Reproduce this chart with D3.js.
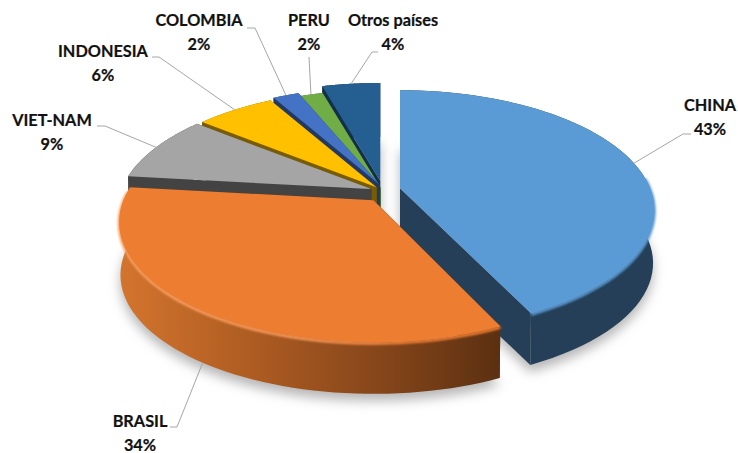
<!DOCTYPE html>
<html>
<head>
<meta charset="utf-8">
<script src="https://cdn.jsdelivr.net/npm/d3@7"></script>
<style>
  html, body { margin: 0; padding: 0; background: #fff; }
  text { font-family: Lato, "Open Sans", sans-serif; font-weight: 700; font-size: 16.3px; fill: #111; stroke: #111; stroke-width: 0.2px; }
</style>
</head>
<body>
<script>
var paises = ["CHINA", "BRASIL", "VIET-NAM", "INDONESIA", "COLOMBIA", "PERU", "Otros países"]
var porcentajes = [42.8, 34, 9, 6, 2, 1.8, 4.4]
var colores = ["#5b9bd5", "#ed7d31", "#a5a5a5", "#ffc000", "#4472c4", "#70ad47", "#255e91"]
var coloresLado = ["#243f57", "#5e3211", "#434343", "#7a5c00", "#223962", "#3f6428", "#12304a"]

// how far each slice is pulled out of the pie, sideways and in depth
var explodeU = [0.07, 0.064, 0.05, 0.04, 0.03, 0.03, 0.08]
var explodeV = [0.07, 0.106, 0.02, 0.03, 0.05, 0.02, 0.08]
// the pulled out Brasil slice looks a bit narrower at its front corner
var recorte = [0, 0.016, 0, 0, 0, 0, 0]
// painter's order, back slices first
var orden = [6, 5, 4, 3, 2, 0, 1]
// label centre, and the leader's first two points
var etiquetas = [
  { x: 710, y: 111, elbow: [683, 134], start: [691, 134] },
  { x: 140, y: 427, elbow: [177, 427], start: [170, 427] },
  { x: 52, y: 126, elbow: [105, 126], start: [97, 126] },
  { x: 103, y: 57, elbow: [159, 57], start: [152, 57] },
  { x: 199, y: 26, elbow: [255, 28], start: [247, 28] },
  { x: 309, y: 26, elbow: [309, 57], start: [309, 57] },
  { x: 393, y: 26, elbow: [372, 52], start: [378, 52] }
]

var width = 738, height = 453
var cx = 383, cy = 190
var R = 250, b = 116, a = 0.184, depth = 53

var svg = d3.select("body").append("svg")
  .attr("width", width)
  .attr("height", height)
  .style("display", "block")

var defs = svg.append("defs")
defs.append("filter").attr("id", "sombra").attr("x", "-10%").attr("y", "-10%").attr("width", "120%").attr("height", "130%")
  .append("feGaussianBlur").attr("stdDeviation", 6)
defs.append("filter").attr("id", "suave").attr("x", "-10%").attr("y", "-10%").attr("width", "120%").attr("height", "120%")
  .append("feGaussianBlur").attr("stdDeviation", 1.1)

var gradOrange = defs.append("linearGradient").attr("id", "ladoBrasil")
  .attr("gradientUnits", "userSpaceOnUse").attr("x1", 118).attr("x2", 500).attr("y1", 0).attr("y2", 0)
gradOrange.selectAll("stop")
  .data([[0, "#d4752e"], [0.35, "#ae5c22"], [0.7, "#84451a"], [1, "#5b3011"]])
  .enter().append("stop")
  .attr("offset", d => d[0])
  .attr("stop-color", d => d[1])

var gradBrillo = defs.append("linearGradient").attr("id", "brillo")
  .attr("gradientUnits", "userSpaceOnUse").attr("x1", 118).attr("x2", 420).attr("y1", 0).attr("y2", 0)
gradBrillo.selectAll("stop")
  .data([[0, "#f9a060"], [0.6, "#f7985a"], [1, "#ed7d31"]])
  .enter().append("stop")
  .attr("offset", d => d[0])
  .attr("stop-color", d => d[1])

var pie = d3.pie().sort(null).value(d => d)
var arcos = pie(porcentajes)
arcos.forEach(function (d, i) { d.startAngle += recorte[i] })

// perspective view of the flat disc: angle measured clockwise from the back
function plano(u, v) {
  var k = 1 / (1 - a * v)
  return [u * R * k, v * b * k]
}

function disco(ang) {
  return plano(Math.sin(ang), -Math.cos(ang))
}

function centro(d, i) {
  var mid = (d.startAngle + d.endAngle) / 2
  var p = plano(Math.sin(mid) * explodeU[i], -Math.cos(mid) * explodeV[i])
  return [cx + p[0], cy + p[1]]
}

function borde(d, i, ang) {
  var c = centro(d, i), p = disco(ang)
  return [c[0] + p[0], c[1] + p[1]]
}

// the floor of the pie sits a little inside the top, and lower
function abajo(pt, c) {
  return [c[0] + (pt[0] - c[0]) * 0.995, pt[1] + depth - (pt[1] - c[1]) * 0.01]
}

function angulos(d) {
  return d3.range(0, 61).map(n => d.startAngle + (d.endAngle - d.startAngle) * n / 60)
}

var linea = d3.line()

function tapa(d, i) {
  var c = centro(d, i)
  return linea([c].concat(angulos(d).map(t => borde(d, i, t)))) + "Z"
}

function piso(d, i) {
  var c = centro(d, i)
  return linea([abajo(c, c)].concat(angulos(d).map(t => abajo(borde(d, i, t), c)))) + "Z"
}

function lado(d, i) {
  var c = centro(d, i)
  var sup = angulos(d).map(t => borde(d, i, t))
  var inf = sup.map(p => abajo(p, c)).reverse()
  return linea(sup.concat(inf)) + "Z"
}

function corte(d, i, ang) {
  var c = centro(d, i), p = borde(d, i, ang)
  return linea([c, p, abajo(p, c), abajo(c, c)]) + "Z"
}

// soft shadow under the whole pie
svg.append("g")
  .attr("filter", "url(#sombra)")
  .attr("transform", "translate(0,7)")
  .selectAll("path")
  .data(arcos)
  .enter().append("path")
  .attr("d", piso)
  .attr("fill", "#b5b5b5")

orden.forEach(function (i) {
  var d = arcos[i]
  var g = svg.append("g")
  g.append("path").attr("d", corte(d, i, d.startAngle)).attr("fill", coloresLado[i])
  g.append("path").attr("d", corte(d, i, d.endAngle)).attr("fill", coloresLado[i])
  g.append("path").attr("d", lado(d, i)).attr("fill", i == 1 ? "url(#ladoBrasil)" : coloresLado[i])
  // soft bevel along the front of the rim only, under the top
  var frente = angulos(d).filter(t => Math.cos(t) < 0.1)
  if (frente.length) {
    g.append("path")
      .attr("d", linea(frente.map(t => { var p = borde(d, i, t); return [p[0], p[1] + 1] })))
      .attr("fill", "none")
      .attr("stroke", i == 1 ? "url(#brillo)" : colores[i])
      .attr("stroke-width", 3)
      .attr("filter", "url(#suave)")
  }
  g.append("path").attr("d", tapa(d, i)).attr("fill", colores[i])
})

// leaders and labels
var lineas = svg.append("g").attr("fill", "none").attr("stroke", "#a6a6a6").attr("stroke-width", 1)
arcos.forEach(function (d, i) {
  var mid = (d.startAngle + d.endAngle) / 2
  var p = borde(d, i, mid)
  if (i == 1) p = abajo(p, centro(d, i))
  var e = etiquetas[i]
  lineas.append("path").attr("d", linea([e.start, e.elbow, p]))
})

var textos = svg.append("g").attr("text-anchor", "middle")
paises.forEach(function (nombre, i) {
  var e = etiquetas[i]
  textos.append("text").attr("x", e.x).attr("y", e.y).text(nombre)
  textos.append("text").attr("x", e.x).attr("y", e.y + 24).text(Math.round(porcentajes[i]) + "%")
})
</script>
</body>
</html>
